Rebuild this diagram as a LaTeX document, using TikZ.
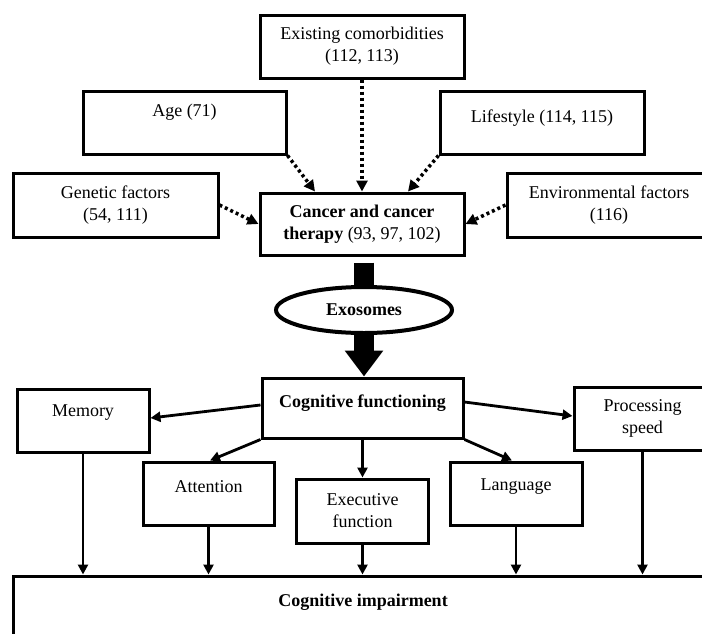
\documentclass[tikz,border=0pt]{standalone}
\usepackage{fontspec}
\setmainfont{Liberation Serif}
\usetikzlibrary{arrows.meta,shapes.geometric,calc}
\begin{document}
\begin{tikzpicture}[x=1pt,y=-1pt,
  font=\fontsize{18}{22}\selectfont,
  box/.style 2 args={draw,line width=3pt,minimum width=#1,minimum height=#2,inner sep=0pt,align=center},
  txt/.style={inner sep=0pt,align=center},
  arr/.style={line width=2.8pt,-{Triangle[length=10pt,width=10pt]}},
  dotarr/.style={line width=3.5pt,dash pattern=on 3pt off 3pt,-{Triangle[length=11pt,width=11pt]}},
  fat/.style={line width=20pt}]
\useasboundingbox (0,0) rectangle (702,633);
\clip (0,0) rectangle (702,633);
\fill[white] (0,0) rectangle (702,633);
% top factors
\node[box={204pt}{63pt}] (comorb) at (362,46.5) {Existing comorbidities\\(112, 113)};
\node[box={203pt}{63pt}] (age) at (184.5,122.5) {};
\node[txt] (agetxt) at (184.5,112) {Age (71)};
\node[box={204pt}{63pt}] (life) at (542,122.5) {};
\node[txt] (lifetxt) at (542,118) {Lifestyle (114, 115)};
\node[box={205pt}{64pt}] (gen) at (115.5,205) {Genetic factors\\(54, 111)};
\node[box={204pt}{64pt}] (env) at (609,205) {Environmental factors\\(116)};
\node[box={204pt}{62pt}] (cancer) at (362,224) {\textbf{Cancer and cancer}\\\textbf{therapy} (93, 97, 102)};
% exosomes
\node[draw,ellipse,line width=4pt,minimum width=176pt,minimum height=46pt,inner sep=0pt,fill=white] (exo) at (364,310) {\textbf{Exosomes}};
% cognitive functioning
\node[box={201pt}{60pt}] (cogfun) at (362.5,408) {};
\node[txt] (cogfuntxt) at (362.5,403) {\textbf{Cognitive functioning}};
\node[box={132pt}{63pt}] (memory) at (83,420.5) {};
\node[txt] (memtxt) at (83,413) {Memory};
\node[box={137pt}{63pt}] (proc) at (642.5,418.5) {Processing\\speed};
\node[box={131pt}{63pt}] (attn) at (208.5,493.5) {};
\node[txt] (attntxt) at (208.5,487) {Attention};
\node[box={132pt}{64pt}] (exec) at (362.5,511) {Executive\\function};
\node[box={132pt}{63pt}] (lang) at (516,493.5) {};
\node[txt] (langtxt) at (516,487) {Language};
\node[box={700pt}{74pt}] (impair) at (363,613) {};
\node[txt] (impairtxt) at (363,602) {\textbf{Cognitive impairment}};
% dotted influences
\draw[dotarr] (age.south east) -- ([xshift=-47pt]cancer.north);
\draw[dotarr] (comorb.south) -- (cancer.north);
\draw[dotarr] (life.south west) -- ([xshift=46pt]cancer.north);
\draw[dotarr] (gen.east) -- (cancer.west);
\draw[dotarr] (env.west) -- (cancer.east);
% fat arrows
\draw[fat] ([yshift=-6pt]cancer.south -| exo.north) -- (exo.north);
\draw[fat,-{Triangle[length=26pt,width=37pt]}] (exo.south) -- (exo.south |- cogfun.north);
% cognitive domains
\draw[arr] ([yshift=3pt]cogfun.west) -- ([yshift=2.5pt]memory.east);
\draw[arr] ([yshift=6pt]cogfun.east) -- ([yshift=2.5pt]proc.west);
\draw[arr] (cogfun.south west) -- ([xshift=1.5pt]attn.north);
\draw[arr] (cogfun.south) -- (exec.north);
\draw[arr] (cogfun.south east) -- ([xshift=-4pt]lang.north);
% to impairment
\draw[arr] (memory.south) -- (impair.north -| memory.south);
\draw[arr] (attn.south) -- (impair.north -| attn.south);
\draw[arr] (exec.south) -- (impair.north -| exec.south);
\draw[arr] (lang.south) -- (impair.north -| lang.south);
\draw[arr] (proc.south) -- (impair.north -| proc.south);
\end{tikzpicture}
\end{document}
